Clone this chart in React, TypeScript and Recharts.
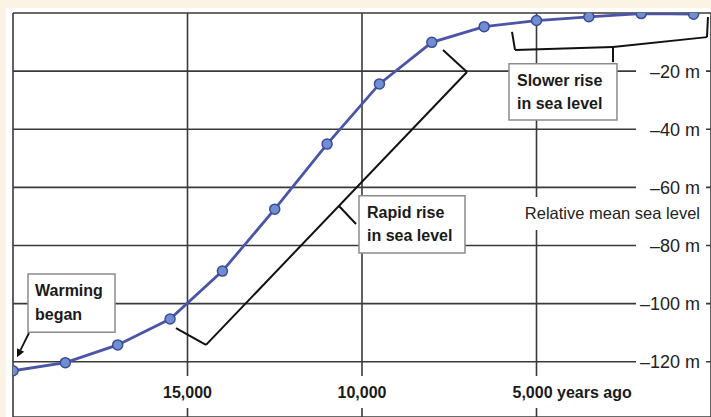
import React from 'react';
import { LineChart, Line, XAxis, YAxis, CartesianGrid, ReferenceArea, ReferenceLine } from 'recharts';

// ---- data ----
const years = [20000, 18500, 17000, 15500, 14000, 12500, 11000, 9500, 8000, 6500, 5000, 3500, 2000, 500];
const seaLevel = [-123.1, -120.3, -114.2, -105.3, -88.8, -67.5, -45.1, -24.4, -10.1, -4.7, -2.6, -1.3, -0.2, -0.4];

const yearTicks = [20000, 15000, 10000, 5000];
const yearTickLabels = ['', '15,000', '10,000', '5,000 years ago'];
const levelTicks = [0, -20, -40, -60, -80, -100, -120];
const levelTickLabels = ['', '–20 m', '–40 m', '–60 m', '–80 m', '–100 m', '–120 m'];

const axisTitle = 'Relative mean sea level';
const warmingLines = ['Warming', 'began'];
const rapidLines = ['Rapid rise', 'in sea level'];
const slowerLines = ['Slower rise', 'in sea level'];

// annotation anchors in data coordinates (year, metres)
const warmingBox = { x1: 19570, x2: 17077, y1: -89.8, y2: -109.8 };
const rapidBox = { x1: 10086, x2: 7049, y1: -62.9, y2: -82.6 };
const slowerBox = { x1: 5788, x2: 2694, y1: -17.5, y2: -36.8 };
const titleArea = { x1: 5444, x2: 172, y1: -63.3, y2: -74.7 };
const warmingArrow = [{ x: 19542, y: -110.1 }, { x: 19885, y: -118.4 }];
const rapidBracket = [
  [{ x: 15330, y: -108.4 }, { x: 14470, y: -114.2 }],
  [{ x: 14470, y: -114.2 }, { x: 6992, y: -20.3 }],
  [{ x: 6992, y: -20.3 }, { x: 7679, y: -12.7 }],
  [{ x: 10659, y: -66.4 }, { x: 10172, y: -72.6 }],
];
const slowerBracket = [
  [{ x: 5702, y: -6.5 }, { x: 5616, y: -12.7 }],
  [{ x: 5616, y: -12.7 }, { x: 2808, y: -11.7 }],
  [{ x: 2808, y: -11.7 }, { x: 115, y: -8.3 }],
  [{ x: 115, y: -8.3 }, { x: 87, y: -1.4 }],
  [{ x: 2808, y: -11.7 }, { x: 2808, y: -16.9 }],
];

const data = years.map((year, i) => ({ year, level: seaLevel[i] }));

const FONT = '"Liberation Sans", Arial, Helvetica, sans-serif';
const GRID = '#3a3a3a';

const YTick = (props: any) => {
  const { x, y, payload } = props;
  const idx = levelTicks.indexOf(payload.value);
  const label = levelTickLabels[idx];
  if (!label) return null;
  return (
    <g>
      <rect x={x - 75} y={y - 10} width={70} height={20} fill="#ffffff" />
      <text x={x - 11} y={y + 6.5} textAnchor="end" fontFamily={FONT} fontSize={18} fill="#222">
        {label}
      </text>
    </g>
  );
};

const XTick = (props: any) => {
  const { x, y, payload } = props;
  const idx = yearTicks.indexOf(payload.value);
  const label = yearTickLabels[idx];
  if (!label) return null;
  const base = y - 19;
  const isLast = idx === yearTicks.length - 1;
  return (
    <g>
      <rect x={x - 28} y={base - 22} width={56} height={32} fill="#ffffff" />
      <text
        x={isLast ? x - 24 : x}
        y={base}
        textAnchor={isLast ? 'start' : 'middle'}
        fontFamily={FONT}
        fontSize={16}
        fontWeight="bold"
        fill="#1a1a1a"
      >
        {label}
      </text>
    </g>
  );
};

const boxLabel = (lines: string[], dx: number) => (p: any) => {
  const vb = p.viewBox;
  if (!vb) return null;
  return (
    <g>
      {lines.map((t, i) => (
        <text
          key={i}
          x={vb.x + dx}
          y={vb.y + 22 + i * 23.5}
          fontFamily={FONT}
          fontSize={16}
          fontWeight="bold"
          fill="#1a1a1a"
        >
          {t}
        </text>
      ))}
    </g>
  );
};

const titleLabel = (p: any) => {
  const vb = p.viewBox;
  if (!vb) return null;
  return (
    <text
      x={vb.x + vb.width - 5}
      y={vb.y + 22.5}
      textAnchor="end"
      fontFamily={FONT}
      fontSize={16.5}
      fill="#222"
    >
      {axisTitle}
    </text>
  );
};

const ArrowShape = (props: any) => {
  const { x1, y1, x2, y2 } = props;
  if (x1 == null) return null;
  const ang = Math.atan2(y2 - y1, x2 - x1);
  const len = 8;
  const w = 4;
  const bx = x2 - len * Math.cos(ang);
  const by = y2 - len * Math.sin(ang);
  const px = -Math.sin(ang) * w;
  const py = Math.cos(ang) * w;
  return (
    <g>
      <line x1={x1} y1={y1} x2={bx} y2={by} stroke="#111" strokeWidth={1.8} />
      <polygon points={`${x2},${y2} ${bx + px},${by + py} ${bx - px},${by - py}`} fill="#111" />
    </g>
  );
};

export default function App() {
  return (
    <div style={{ position: 'absolute', left: 0, top: 0, width: 711, height: 417, background: '#fbf3e3', overflow: 'hidden' }}>
      <div style={{ position: 'absolute', left: 6, top: 8, width: 705, height: 409, background: '#ffffff' }} />
      <div style={{ position: 'absolute', left: 0, top: 0 }}>
        <LineChart width={711} height={417} data={data} margin={{ top: 13, right: 0, bottom: 0, left: 13 }}>
          <CartesianGrid stroke={GRID} strokeWidth={1.6} />
          <XAxis
            dataKey="year"
            type="number"
            domain={[0, 20000]}
            reversed
            allowDataOverflow
            ticks={yearTicks}
            interval={0}
            mirror
            height={30}
            tickSize={0}
            tickMargin={0}
            axisLine={false}
            tickLine={false}
            tick={<XTick />}
          />
          <YAxis
            type="number"
            domain={[-139, 0]}
            allowDataOverflow
            ticks={levelTicks}
            interval={0}
            orientation="right"
            mirror
            width={60}
            tickSize={0}
            tickMargin={0}
            axisLine={false}
            tickLine={false}
            tick={<YTick />}
          />
          <ReferenceArea {...titleArea} fill="#ffffff" fillOpacity={1} stroke="none" label={titleLabel} />
          <ReferenceArea {...warmingBox} fill="#ffffff" fillOpacity={1} stroke="#8c8c8c" strokeWidth={1.5} label={boxLabel(warmingLines, 7)} />
          <ReferenceArea {...rapidBox} fill="#ffffff" fillOpacity={1} stroke="#8c8c8c" strokeWidth={1.5} label={boxLabel(rapidLines, 8)} />
          <ReferenceArea {...slowerBox} fill="#ffffff" fillOpacity={1} stroke="#8c8c8c" strokeWidth={1.5} label={boxLabel(slowerLines, 8)} />
          {rapidBracket.map((seg, i) => (
            <ReferenceLine key={'r' + i} segment={seg} stroke="#111" strokeWidth={2} />
          ))}
          {slowerBracket.map((seg, i) => (
            <ReferenceLine key={'s' + i} segment={seg} stroke="#111" strokeWidth={2} />
          ))}
          <ReferenceLine segment={warmingArrow} shape={ArrowShape} />
          <Line
            dataKey="level"
            type="linear"
            stroke="#4a55a8"
            strokeWidth={2.8}
            dot={{ r: 5, fill: '#6f8fd0', stroke: '#3d4a9a', strokeWidth: 1.5 }}
            isAnimationActive={false}
          />
        </LineChart>
      </div>
    </div>
  );
}
